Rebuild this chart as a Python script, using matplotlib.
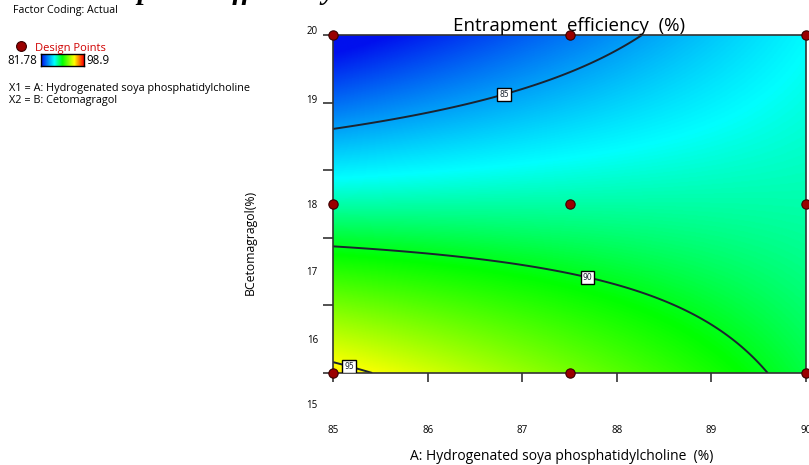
import numpy as np
import matplotlib.pyplot as plt
from matplotlib.colors import LinearSegmentedColormap, Normalize

# factor ranges in actual units
a_range = [85, 90]
b_range = [16, 20]

# fitted quadratic in coded units: b0, A, B, AB, A^2, B^2
coef = [88.25, -0.01, -4.23, 2.98, -0.072, 0.076]

resp_min = 81.78
resp_max = 98.9
levels = [85, 90, 95]
label_pos = [(86.80, 19.33), (87.70, 17.18), (85.18, 16.12)]

# 3x3 design
design_a = [85, 87.5, 90, 85, 87.5, 90, 85, 87.5, 90]
design_b = [16, 16, 16, 18, 18, 18, 20, 20, 20]

xticks = [85, 86, 87, 88, 89, 90]
ytick_marks = [16, 16.8, 17.6, 18.4, 19.2, 20]
ytick_labels = ["20", "19", "18", "17", "16", "15"]
ytick_label_pos = [20.04, 19.22, 17.98, 17.19, 16.38, 15.61]

W, H = 809, 465
FONT = "Open Sans"

de_cmap = LinearSegmentedColormap.from_list(
    "de", [(0.0, "#0010ee"), (0.31, "#00ffff"), (0.5, "#00ff00"),
           (0.78, "#ffff00"), (1.0, "#ff0000")])
norm = Normalize(resp_min, resp_max)


def px(x, y):
    return x / W, 1 - y / H


A = np.linspace(a_range[0], a_range[1], 400)
B = np.linspace(b_range[0], b_range[1], 400)
AA, BB = np.meshgrid(A, B)
a = (AA - np.mean(a_range)) / (np.diff(a_range)[0] / 2)
b = (BB - np.mean(b_range)) / (np.diff(b_range)[0] / 2)
Z = (coef[0] + coef[1] * a + coef[2] * b + coef[3] * a * b
     + coef[4] * a ** 2 + coef[5] * b ** 2)

fig = plt.figure(figsize=(W / 100, H / 100), dpi=100)
ax = fig.add_axes([333 / W, 1 - 373 / H, 473 / W, 338 / H])

ax.imshow(Z, origin="lower", extent=[*a_range, *b_range], aspect="auto",
          cmap=de_cmap, norm=norm, interpolation="bilinear")
cs = ax.contour(AA, BB, Z, levels=levels, colors="#1b2430", linewidths=1.4)
labels = ax.clabel(cs, manual=label_pos, inline=False, fontsize=5.5, fmt="%d")
for t in labels:
    t.set_rotation(0)
    t.set_bbox(dict(boxstyle="square,pad=0.25", fc="white", ec="black", lw=1))

ax.scatter(design_a, design_b, s=45, c="#9a0000", edgecolors="#3a0000",
           linewidths=0.8, clip_on=False, zorder=5)

ax.set_xlim(a_range)
ax.set_ylim(b_range)
for s in ax.spines.values():
    s.set_color("#333333")
    s.set_linewidth(1.2)

ax.set_xticks(xticks)
ax.set_xticklabels([str(v) for v in xticks], fontfamily=FONT, fontsize=7)
ax.tick_params(axis="x", length=6.5, width=1.2, color="#333333", pad=31)
ax.set_yticks(ytick_marks)
ax.set_yticklabels([])
ax.tick_params(axis="y", length=7.5, width=1.2, color="#333333")
for lab, pos in zip(ytick_labels, ytick_label_pos):
    ax.text(-0.032, pos, lab, transform=ax.get_yaxis_transform(),
            ha="right", va="center", fontfamily=FONT, fontsize=7,
            clip_on=False)

ax.set_title("Entrapment  efficiency  (%)", fontfamily=FONT, fontsize=13.5,
             pad=1)
ax.set_xlabel("A: Hydrogenated soya phosphatidylcholine  (%)",
              fontfamily=FONT, fontsize=10)
ax.xaxis.set_label_coords(0.484, -0.225)
ax.set_ylabel("BCetomagragol(%)", fontfamily=FONT, fontsize=8.8)
ax.yaxis.set_label_coords(-0.161, 0.385)

# caption line above, mostly outside the canvas
fig.text(*px(68, -1), "Entrapment efficiency", fontfamily="Liberation Serif",
         style="italic", weight="bold", fontsize=21, va="baseline")

# left side legend block
fig.text(*px(13, 11), "Factor Coding: Actual", fontfamily=FONT, fontsize=7.7,
         va="center")
fig.text(*px(35, 49), "Design Points", fontfamily=FONT, fontsize=8,
         color="#d00000", va="center")
dot_ax = fig.add_axes([14 / W, 1 - 52 / H, 14 / W, 12 / H])
dot_ax.scatter([0], [0], s=50, c="#9a0000", edgecolors="#3a0000", linewidths=0.8)
dot_ax.set_xlim(-1, 1)
dot_ax.set_ylim(-1, 1)
dot_ax.axis("off")

fig.text(*px(7, 61), f"{resp_min:g}", fontfamily=FONT, fontsize=8.3, va="center")
fig.text(*px(86, 61), f"{resp_max:g}", fontfamily=FONT, fontsize=8.3, va="center")
bar_ax = fig.add_axes([41 / W, 1 - 66 / H, 43 / W, 12 / H])
bar_ax.imshow(np.linspace(0, 1, 100)[None, :], aspect="auto", cmap=de_cmap)
bar_ax.set_xticks([])
bar_ax.set_yticks([])
for s in bar_ax.spines.values():
    s.set_color("black")
    s.set_linewidth(1)

fig.text(*px(9, 88), "X1 = A: Hydrogenated soya phosphatidylcholine",
         fontfamily=FONT, fontsize=7.8, va="center")
fig.text(*px(9, 100), "X2 = B: Cetomagragol", fontfamily=FONT, fontsize=7.8,
         va="center")

fig.savefig("out.png", dpi=100)
